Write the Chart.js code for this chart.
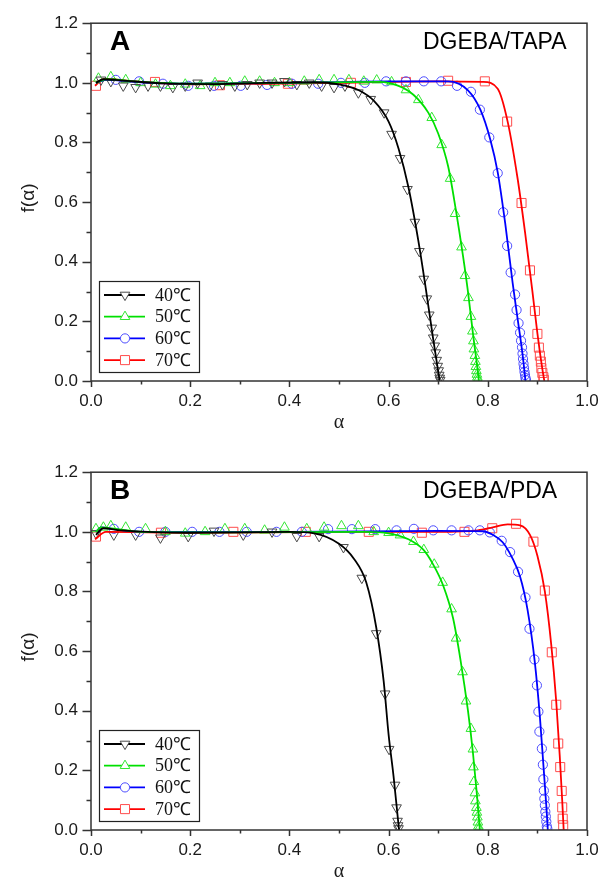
<!DOCTYPE html>
<html>
<head>
<meta charset="utf-8">
<script src="https://cdn.jsdelivr.net/npm/chart.js@4.4.1/dist/chart.umd.min.js"></script>
<style>
  html, body { margin: 0; padding: 0; background: #fff; overflow: hidden; }
  canvas { position: absolute; left: 0; }
  #chartA { top: 0; }
  #chartB { top: 449px; }
</style>
</head>
<body>
<canvas id="chartA" width="611" height="449"></canvas>
<canvas id="chartB" width="611" height="430"></canvas>
<script>
// series / legend
const seriesLabels = ['40℃', '50℃', '60℃', '70℃'];
const xTickLabels = ['0.0', '0.2', '0.4', '0.6', '0.8', '1.0'];
const yTickLabels = ['0.0', '0.2', '0.4', '0.6', '0.8', '1.0', '1.2'];

// Panel A - DGEBA/TAPA, measured points [alpha, f(alpha)]
const a40 = [[0.02,1.01],[0.04,1.005],[0.065,0.99],[0.09,0.985],[0.115,0.99],[0.14,0.99],[0.165,0.985],[0.19,0.99],[0.215,1.0],[0.24,0.99],[0.265,0.995],[0.29,0.99],[0.315,0.995],[0.34,1.0],[0.365,1.0],[0.39,1.005],[0.415,0.995],[0.44,1.0],[0.465,0.99],[0.49,0.985],[0.512,0.99],[0.539,0.967],[0.564,0.945],[0.591,0.90],[0.606,0.828],[0.623,0.747],[0.638,0.643],[0.653,0.533],[0.662,0.435],[0.671,0.342],[0.677,0.276],[0.682,0.222],[0.687,0.178],[0.690,0.145],[0.693,0.118],[0.695,0.095],[0.697,0.07],[0.699,0.05],[0.701,0.035],[0.702,0.02],[0.703,0.01],[0.704,0.003]];
const a50 = [[0.015,1.015],[0.04,1.02],[0.07,1.01],[0.1,1.0],[0.13,0.995],[0.16,0.99],[0.19,0.995],[0.22,0.99],[0.25,1.0],[0.28,1.0],[0.31,1.005],[0.34,1.005],[0.37,1.0],[0.4,1.0],[0.43,1.005],[0.46,1.01],[0.49,1.01],[0.52,1.01],[0.55,1.005],[0.576,1.009],[0.606,1.003],[0.635,0.976],[0.66,0.943],[0.687,0.883],[0.707,0.792],[0.724,0.679],[0.734,0.561],[0.747,0.449],[0.754,0.353],[0.761,0.279],[0.766,0.216],[0.769,0.167],[0.771,0.134],[0.772,0.107],[0.774,0.085],[0.775,0.065],[0.776,0.048],[0.777,0.034],[0.778,0.022],[0.779,0.012],[0.78,0.004]];
const a60 = [[0.05,1.01],[0.097,1.005],[0.145,0.997],[0.196,0.99],[0.248,0.99],[0.302,0.99],[0.355,0.993],[0.405,0.997],[0.458,0.997],[0.504,1.0],[0.552,1.0],[0.595,1.005],[0.635,1.005],[0.671,1.005],[0.706,1.005],[0.738,0.99],[0.766,0.97],[0.784,0.91],[0.803,0.817],[0.82,0.697],[0.831,0.566],[0.839,0.453],[0.846,0.364],[0.855,0.29],[0.858,0.238],[0.862,0.194],[0.865,0.162],[0.867,0.135],[0.869,0.113],[0.870,0.092],[0.871,0.074],[0.872,0.058],[0.873,0.044],[0.874,0.031],[0.875,0.02],[0.876,0.01],[0.877,0.003]];
const a70 = [[0.01,0.99],[0.129,1.003],[0.26,0.992],[0.397,0.997],[0.524,1.0],[0.635,1.003],[0.72,1.007],[0.794,1.005],[0.839,0.87],[0.868,0.597],[0.885,0.371],[0.895,0.235],[0.90,0.158],[0.903,0.112],[0.905,0.085],[0.907,0.065],[0.908,0.043],[0.91,0.027],[0.912,0.013],[0.913,0.004]];

// Panel A fitted curves
const fitA40 = [[0.01,1.0],[0.025,1.012],[0.06,1.008],[0.15,0.998],[0.25,0.996],[0.35,1.0],[0.45,1.002],[0.5,0.995],[0.54,0.975],[0.57,0.94],[0.6,0.87],[0.62,0.78],[0.64,0.65],[0.66,0.47],[0.675,0.31],[0.69,0.14],[0.703,0.0]];
const fitA50 = [[0.01,1.0],[0.03,1.012],[0.1,1.003],[0.2,0.997],[0.4,1.0],[0.58,1.003],[0.62,0.99],[0.65,0.96],[0.68,0.9],[0.7,0.83],[0.72,0.72],[0.735,0.58],[0.75,0.42],[0.76,0.3],[0.77,0.16],[0.78,0.03],[0.782,0.0]];
const fitA60 = [[0.01,1.0],[0.03,1.01],[0.1,1.002],[0.2,0.997],[0.4,1.0],[0.6,1.005],[0.72,1.005],[0.76,0.975],[0.785,0.91],[0.805,0.81],[0.82,0.70],[0.835,0.53],[0.85,0.33],[0.86,0.21],[0.87,0.09],[0.876,0.0]];
const fitA70 = [[0.008,0.99],[0.025,1.012],[0.1,1.003],[0.2,0.995],[0.35,0.997],[0.5,1.0],[0.7,1.005],[0.79,1.003],[0.82,0.98],[0.84,0.87],[0.86,0.68],[0.875,0.5],[0.89,0.3],[0.9,0.16],[0.91,0.04],[0.914,0.0]];

// Panel B - DGEBA/PDA, measured points
const b40 = [[0.01,0.995],[0.046,0.99],[0.09,0.99],[0.14,0.98],[0.196,0.985],[0.248,1.003],[0.307,0.99],[0.365,1.0],[0.415,0.985],[0.46,0.985],[0.509,0.948],[0.546,0.845],[0.575,0.659],[0.593,0.457],[0.601,0.271],[0.613,0.151],[0.616,0.075],[0.618,0.03],[0.619,0.015],[0.62,0.005]];
const b50 = [[0.01,1.01],[0.025,1.015],[0.04,1.02],[0.07,1.015],[0.11,1.01],[0.15,1.0],[0.19,0.995],[0.23,1.0],[0.27,1.01],[0.31,1.01],[0.35,1.005],[0.39,1.015],[0.435,1.01],[0.47,1.015],[0.505,1.02],[0.539,1.02],[0.57,1.0],[0.60,0.997],[0.623,0.989],[0.65,0.967],[0.671,0.94],[0.692,0.891],[0.709,0.83],[0.727,0.741],[0.736,0.643],[0.749,0.53],[0.756,0.432],[0.766,0.34],[0.77,0.271],[0.771,0.211],[0.772,0.162],[0.774,0.124],[0.775,0.097],[0.777,0.075],[0.778,0.059],[0.779,0.043],[0.78,0.026],[0.781,0.012],[0.782,0.004]];
const b60 = [[0.046,1.01],[0.097,1.0],[0.15,1.0],[0.204,1.0],[0.259,1.0],[0.314,1.0],[0.374,1.0],[0.425,1.0],[0.478,1.009],[0.526,1.009],[0.573,1.009],[0.616,1.005],[0.651,1.01],[0.69,1.005],[0.727,1.005],[0.761,1.005],[0.784,1.005],[0.804,0.998],[0.828,0.97],[0.845,0.932],[0.861,0.866],[0.876,0.78],[0.884,0.675],[0.894,0.572],[0.899,0.485],[0.902,0.397],[0.904,0.33],[0.909,0.273],[0.911,0.219],[0.912,0.17],[0.913,0.132],[0.914,0.105],[0.915,0.083],[0.916,0.061],[0.917,0.045],[0.918,0.028],[0.919,0.012],[0.92,0.004]];
const b70 = [[0.01,0.984],[0.141,0.997],[0.287,1.0],[0.433,1.0],[0.56,1.0],[0.667,0.997],[0.753,1.0],[0.809,1.012],[0.857,1.027],[0.892,0.967],[0.915,0.803],[0.929,0.596],[0.938,0.42],[0.942,0.29],[0.946,0.211],[0.949,0.131],[0.95,0.076],[0.951,0.038],[0.952,0.016]];

// Panel B fitted curves
const fitB40 = [[0.01,0.99],[0.025,1.012],[0.06,1.005],[0.2,0.997],[0.4,1.0],[0.45,0.995],[0.5,0.96],[0.53,0.91],[0.555,0.83],[0.575,0.68],[0.59,0.5],[0.6,0.32],[0.61,0.18],[0.618,0.05],[0.621,0.0]];
const fitB50 = [[0.01,1.0],[0.02,1.015],[0.05,1.01],[0.1,1.0],[0.3,0.998],[0.55,1.0],[0.6,0.995],[0.64,0.975],[0.67,0.94],[0.69,0.89],[0.71,0.82],[0.73,0.71],[0.745,0.57],[0.76,0.4],[0.77,0.26],[0.778,0.12],[0.784,0.0]];
const fitB60 = [[0.01,1.0],[0.02,1.015],[0.05,1.008],[0.1,1.0],[0.4,1.0],[0.7,1.003],[0.79,1.002],[0.81,0.99],[0.83,0.965],[0.85,0.91],[0.865,0.85],[0.88,0.74],[0.895,0.56],[0.905,0.38],[0.912,0.22],[0.918,0.08],[0.921,0.0]];
const fitB70 = [[0.008,0.975],[0.03,1.0],[0.2,0.997],[0.5,1.0],[0.7,1.0],[0.78,1.005],[0.81,1.015],[0.84,1.025],[0.865,1.022],[0.885,0.99],[0.9,0.92],[0.915,0.8],[0.928,0.62],[0.938,0.43],[0.945,0.25],[0.95,0.1],[0.953,0.0]];

// styles
const lineColors = ['#000000', '#00e000', '#0000ff', '#ff0000'];
const markerColors = ['#4a4a4a', '#33e633', '#4d4dff', '#ff4d4d'];
const markerStyles = ['triangle', 'triangle', 'circle', 'rect'];
const markerRotation = [180, 0, 0, 0];
const markerRadius = [5.6, 5.6, 4.6, 6.4];
const axisColor = '#333333';
const sansFont = '"Liberation Sans", Arial, sans-serif';
const serifFont = '"Liberation Serif", "Times New Roman", serif';

const toXY = arr => arr.map(p => ({ x: p[0], y: p[1] }));

function makeChart(id, height, points, fits, letter, system) {
  const datasets = [];
  fits.forEach((f, i) => {
    datasets.push({
      data: toXY(f), showLine: true, borderColor: lineColors[i], borderWidth: 1.8,
      pointRadius: 0, cubicInterpolationMode: 'monotone', order: 0
    });
  });
  points.forEach((p, i) => {
    datasets.push({
      data: toXY(p), showLine: false, pointStyle: markerStyles[i], rotation: markerRotation[i],
      pointRadius: markerRadius[i], borderColor: markerColors[i], backgroundColor: 'rgba(0,0,0,0)',
      pointBorderWidth: 1, order: 1
    });
  });

  // frame, ticks, texts and legend
  const decor = {
    id: 'decor',
    afterDraw(chart) {
      const ctx = chart.ctx;
      const a = chart.chartArea;
      const xs = chart.scales.x, ys = chart.scales.y;
      ctx.save();
      ctx.strokeStyle = axisColor;
      ctx.lineWidth = 1.5;
      ctx.strokeRect(a.left, a.top, a.right - a.left, a.bottom - a.top);
      ctx.beginPath();
      xs.ticks.forEach(t => {
        const px = Math.round(xs.getPixelForValue(t.value)) + 0.5;
        const major = Math.round(t.value * 10) % 2 === 0;
        ctx.moveTo(px, a.bottom);
        ctx.lineTo(px, a.bottom + (major ? 6 : 3.5));
      });
      ys.ticks.forEach(t => {
        const py = Math.round(ys.getPixelForValue(t.value)) + 0.5;
        const major = Math.round(t.value * 10) % 2 === 0;
        ctx.moveTo(a.left, py);
        ctx.lineTo(a.left - (major ? 8.5 : 4.5), py);
      });
      ctx.stroke();

      // axis titles
      ctx.fillStyle = '#1a1a1a';
      ctx.font = '20px ' + serifFont;
      ctx.textAlign = 'center';
      ctx.textBaseline = 'middle';
      ctx.fillText('α', (a.left + a.right) / 2, 423);
      ctx.save();
      ctx.translate(29, 198);
      ctx.rotate(-Math.PI / 2);
      ctx.font = '19px ' + sansFont;
      ctx.fillText('f(α)', 0, 0);
      ctx.restore();

      // panel letter and system
      ctx.fillStyle = '#000';
      ctx.font = 'bold 28px ' + sansFont;
      ctx.textAlign = 'left';
      ctx.fillText(letter, 110, 42);
      ctx.font = '23px ' + sansFont;
      ctx.fillText(system, 423, 43);

      // legend
      const lx = 99, ly = 281, lw = 100, lh = 91;
      ctx.lineWidth = 1.2;
      ctx.strokeStyle = '#222';
      ctx.strokeRect(lx + 0.5, ly + 0.5, lw, lh);
      ctx.font = '18px ' + serifFont;
      seriesLabels.forEach((lab, i) => {
        const ry = ly + 14 + i * 21.7;
        ctx.strokeStyle = lineColors[i];
        ctx.lineWidth = 1.8;
        ctx.beginPath();
        ctx.moveTo(lx + 5, ry);
        ctx.lineTo(lx + 46, ry);
        ctx.stroke();
        ctx.strokeStyle = markerColors[i];
        ctx.fillStyle = '#fff';
        ctx.lineWidth = 1;
        Chart.helpers.drawPoint(ctx, {
          pointStyle: markerStyles[i], radius: markerRadius[i], rotation: markerRotation[i], borderWidth: 1
        }, lx + 26, ry);
        ctx.fillStyle = '#111';
        ctx.fillText(lab, lx + 56, ry + 1);
      });
      ctx.restore();
    }
  };

  return new Chart(document.getElementById(id), {
    type: 'scatter',
    data: { datasets },
    plugins: [decor],
    options: {
      responsive: false,
      animation: false,
      devicePixelRatio: 1,
      layout: { padding: { top: 15, right: 24, left: 0, bottom: 0 } },
      plugins: { legend: { display: false }, tooltip: { enabled: false } },
      scales: {
        x: {
          type: 'linear', min: 0, max: 1.0,
          border: { display: false },
          grid: { display: false, drawTicks: false },
          afterFit: s => { s.height = height - 381; },
          ticks: {
            stepSize: 0.1, autoSkip: false, maxRotation: 0, padding: 10,
            color: '#1a1a1a', font: { family: sansFont, size: 17 },
            callback: v => {
              const r = Math.round(v * 10);
              return r % 2 === 0 ? xTickLabels[r / 2] : '';
            }
          }
        },
        y: {
          type: 'linear', min: 0, max: 1.2,
          border: { display: false },
          grid: { display: false, drawTicks: false },
          afterFit: s => { s.width = 91; },
          ticks: {
            stepSize: 0.1, autoSkip: false, padding: 13,
            color: '#1a1a1a', font: { family: sansFont, size: 17 },
            callback: v => {
              const r = Math.round(v * 10);
              return r % 2 === 0 ? yTickLabels[r / 2] : '';
            }
          }
        }
      }
    }
  });
}

makeChart('chartA', 449, [a40, a50, a60, a70], [fitA40, fitA50, fitA60, fitA70], 'A', 'DGEBA/TAPA');
makeChart('chartB', 430, [b40, b50, b60, b70], [fitB40, fitB50, fitB60, fitB70], 'B', 'DGEBA/PDA');
</script>
</body>
</html>
